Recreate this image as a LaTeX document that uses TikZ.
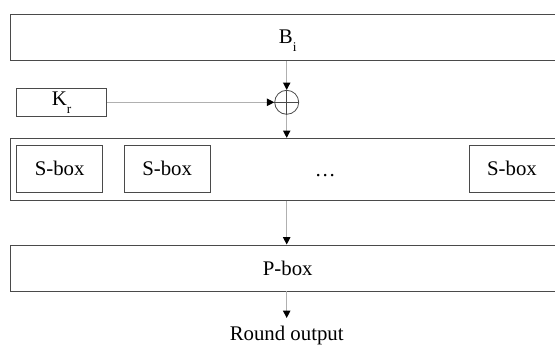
\documentclass[tikz,border=0pt]{standalone}
\usepackage{fontspec}
\setmainfont{Liberation Serif}
\usetikzlibrary{arrows.meta}
\definecolor{boxline}{HTML}{4A4A4A}
\definecolor{wire}{HTML}{B0B0B0}
\newcommand{\lowsub}[1]{\raisebox{-6pt}{\fontsize{10}{12}\selectfont #1}}
\tikzset{
  every node/.style={font=\fontsize{15.6}{18}\selectfont},
  wide/.style={draw=boxline, line width=0.7pt, inner sep=0pt,
    minimum width=415.9pt},
  sbox/.style={draw=boxline, line width=0.7pt, inner sep=0pt,
    minimum width=64.5pt, minimum height=35.5pt},
  keybox/.style={draw=boxline, line width=0.7pt, inner sep=0pt,
    minimum width=67.5pt, minimum height=21pt},
  xorop/.style={circle, draw=boxline, line width=0.6pt, inner sep=0pt,
    minimum size=18pt},
  wirearrow/.style={draw=wire, line width=0.8pt,
    -{Triangle[length=5.5pt, width=5.5pt, color=black]}},
}
\begin{document}
\begin{tikzpicture}[x=0.75pt, y=-0.75pt]
  \useasboundingbox (0,0) rectangle (555,345);
  \clip (0,0) rectangle (555,345);

  % round input block
  \node[wide, minimum height=34.7pt] (bi) at (287.75,37.2)
    {B\smash{\lowsub{i}}};

  % round key and XOR
  \node[keybox] (kr) at (61.7,102.3) {K\lowsub{r}};
  \node[xorop] (xor) at (286.7,102.3) {};
  \draw[boxline, line width=0.6pt] (xor.north) -- (xor.south)
    (xor.west) -- (xor.east);

  % substitution layer
  \node[wide, minimum height=46.3pt] (slayer) at (287.75,169.2) {};
  \node[sbox] (s1) at (59.7,168.7) {S-box};
  \node[sbox] (s2) at (167.2,168.7) {S-box};
  \node[anchor=base, inner sep=0pt] (dots) at (325.3,176.3) {\dots};
  \node[sbox] (s3) at (512,168.7) {S-box};

  % permutation layer
  \node[wide, minimum height=34.5pt] (pbox) at (287.75,268) {P-box};

  % output
  \coordinate (out) at (286.7,318);
  \node[inner sep=0pt] (outlabel) at (286.7,335) {Round output};

  % connectors
  \draw[wirearrow] (xor |- bi.south) -- (xor.north);
  \draw[wirearrow] (kr.east) -- (xor.west);
  \draw[wirearrow] (xor.south) -- (xor |- slayer.north);
  \draw[wirearrow] (xor |- slayer.south) -- (xor |- pbox.north);
  \draw[wirearrow] (xor |- pbox.south) -- (out);
\end{tikzpicture}
\end{document}
